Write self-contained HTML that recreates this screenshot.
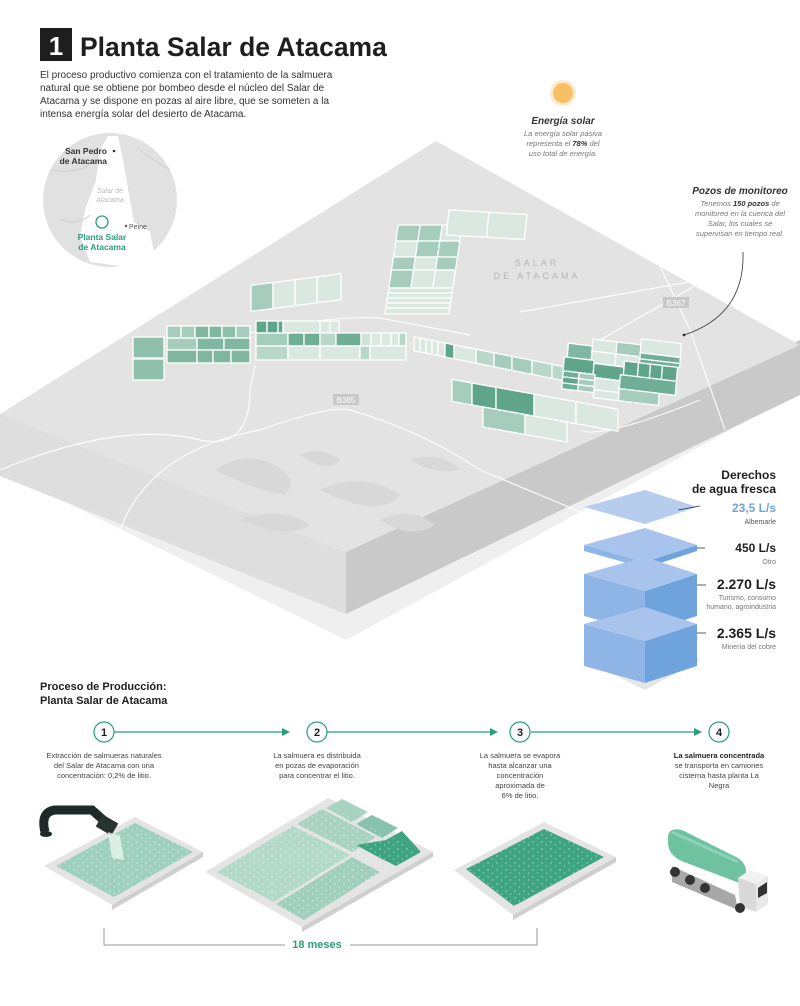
<!DOCTYPE html>
<html><head><meta charset="utf-8">
<style>
html,body{margin:0;padding:0;background:#fff;}
body{width:800px;height:1001px;overflow:hidden;font-family:"Liberation Sans",sans-serif;}
svg text{font-family:"Liberation Sans",sans-serif;}
</style></head>
<body>
<svg width="800" height="1001" viewBox="0 0 800 1001" xmlns="http://www.w3.org/2000/svg">
<defs>
<pattern id="dots" width="9" height="7" patternUnits="userSpaceOnUse">
<circle cx="2" cy="2" r="0.6" fill="#fff" opacity="0.8"/><circle cx="6.5" cy="5" r="0.6" fill="#fff" opacity="0.6"/>
</pattern>
<clipPath id="mapc"><circle cx="110" cy="200" r="67"/></clipPath>
</defs>

<!-- header -->
<rect x="40" y="28" width="32" height="33" fill="#1e1e1e"/>
<text x="56" y="55" font-size="26" font-weight="bold" fill="#fff" text-anchor="middle">1</text>
<text x="80" y="56" font-size="26.5" font-weight="bold" fill="#1e1e1e">Planta Salar de Atacama</text>
<g font-size="10" fill="#333">
<text x="40" y="78">El proceso productivo comienza con el tratamiento de la salmuera</text>
<text x="40" y="91">natural que se obtiene por bombeo desde el núcleo del Salar de</text>
<text x="40" y="104">Atacama y se dispone en pozas al aire libre, que se someten a la</text>
<text x="40" y="117">intensa energía solar del desierto de Atacama.</text>
</g>

<!-- slab -->
<polygon points="0,430 346,585 800,372 800,392 346,640 0,470" fill="#efefef"/>
<polygon points="0,414 346,552 346,614 0,476" fill="#dedede"/>
<polygon points="346,552 800,340 800,395 346,614" fill="#c9c9c9"/>
<polygon points="0,414 436,141 800,345 346,552" fill="#e3e3e3"/>

<!-- mountains -->
<g fill="#d8d8d8">
<path d="M215,470 q30,-20 60,-5 q25,15 10,30 q-30,-5 -70,-25z"/>
<path d="M300,455 q20,-10 40,5 q-10,15 -40,-5z"/>
<path d="M320,490 q40,-20 80,5 q-20,25 -80,-5z"/>
<path d="M240,520 q40,-15 70,5 q-20,15 -70,-5z"/>
<path d="M380,520 q30,-15 55,5 q-25,15 -55,-5z"/>
<path d="M410,460 q30,-10 50,10 q-25,5 -50,-10z"/>
</g>
<!-- roads -->
<g fill="none" stroke="#fff" stroke-width="1.2" opacity="0.9">
<path d="M0,470 Q120,420 200,440 Q250,450 250,390 L255,365"/>
<path d="M120,530 Q150,450 260,430 Q330,405 350,410 Q420,430 480,470 L600,520"/>
<path d="M520,312 L700,280 L740,270"/>
<path d="M600,340 L740,260"/>
<path d="M650,245 L690,330 L725,430"/>
<path d="M250,333 Q330,315 380,318 L470,335"/>
<path d="M580,430 Q600,440 700,400"/>
</g>

<!-- pond clusters -->
<g stroke="#fff" stroke-width="1.3">
<rect x="133" y="337" width="31" height="21" fill="#8fbfad"/><rect x="133" y="359" width="31" height="21" fill="#8fbfad"/>
<g>
<rect x="167" y="326" width="14" height="12" fill="#a6ccbd"/><rect x="181" y="326" width="14" height="12" fill="#a6ccbd"/><rect x="195" y="326" width="14" height="12" fill="#7fb7a2"/><rect x="209" y="326" width="13" height="12" fill="#7fb7a2"/><rect x="222" y="326" width="14" height="12" fill="#8fbfad"/><rect x="236" y="326" width="14" height="12" fill="#a6ccbd"/>
<rect x="167" y="338" width="30" height="12" fill="#a6ccbd"/><rect x="197" y="338" width="27" height="12" fill="#7fb7a2"/><rect x="224" y="338" width="26" height="12" fill="#7fb7a2"/>
<rect x="167" y="350" width="30" height="13" fill="#7fb7a2"/><rect x="197" y="350" width="16" height="13" fill="#7fb7a2"/><rect x="213" y="350" width="18" height="13" fill="#7fb7a2"/><rect x="231" y="350" width="19" height="13" fill="#7fb7a2"/>
</g>
<g>
<rect x="256" y="321" width="11" height="12" fill="#5ea58b"/><rect x="267" y="321" width="11" height="12" fill="#5ea58b"/><rect x="278" y="321" width="5" height="12" fill="#5ea58b"/><rect x="283" y="321" width="37" height="12" fill="#dbe8e2"/><rect x="320" y="321" width="10" height="12" fill="#dbe8e2"/><rect x="330" y="321" width="9" height="12" fill="#dbe8e2"/>
<rect x="256" y="333" width="32" height="13" fill="#a6ccbd"/><rect x="288" y="333" width="16" height="13" fill="#6fae97"/><rect x="304" y="333" width="16" height="13" fill="#6fae97"/><rect x="320" y="333" width="16" height="13" fill="#b9d7cb"/><rect x="336" y="333" width="25" height="13" fill="#6fae97"/><rect x="361" y="333" width="10" height="13" fill="#cfe1d9"/><rect x="371" y="333" width="10" height="13" fill="#dbe8e2"/><rect x="381" y="333" width="10" height="13" fill="#dbe8e2"/><rect x="391" y="333" width="8" height="13" fill="#dbe8e2"/><rect x="399" y="333" width="7" height="13" fill="#b9d7cb"/>
<rect x="256" y="346" width="32" height="14" fill="#b9d7cb"/><rect x="288" y="346" width="32" height="14" fill="#dbe8e2"/><rect x="320" y="346" width="40" height="14" fill="#dbe8e2"/><rect x="360" y="346" width="10" height="14" fill="#b9d7cb"/><rect x="370" y="346" width="36" height="14" fill="#dbe8e2"/>
</g>
<g transform="matrix(1,-0.13,0,1,0,33)">
<rect x="251" y="285" width="22" height="26" fill="#a6ccbd"/><rect x="273" y="285" width="22" height="26" fill="#dbe8e2"/><rect x="295" y="285" width="22" height="26" fill="#dbe8e2"/><rect x="317" y="285" width="24" height="26" fill="#dbe8e2"/>
</g>
<g transform="matrix(1,0,-0.15,1,47,0)">
<rect x="385" y="225" width="22" height="16" fill="#a6ccbd"/><rect x="407" y="225" width="22" height="16" fill="#a6ccbd"/><rect x="429" y="225" width="20" height="16" fill="#dbe8e2"/>
<rect x="385" y="241" width="22" height="16" fill="#dbe8e2"/><rect x="407" y="241" width="22" height="16" fill="#a6ccbd"/><rect x="429" y="241" width="20" height="16" fill="#a6ccbd"/>
<rect x="385" y="257" width="22" height="13" fill="#a6ccbd"/><rect x="407" y="257" width="22" height="13" fill="#dbe8e2"/><rect x="429" y="257" width="20" height="13" fill="#a6ccbd"/>
<rect x="385" y="270" width="22" height="18" fill="#a6ccbd"/><rect x="407" y="270" width="22" height="18" fill="#dbe8e2"/><rect x="429" y="270" width="20" height="18" fill="#dbe8e2"/>
<rect x="385" y="288" width="64" height="5" fill="#dbe8e2"/><rect x="385" y="293" width="64" height="5" fill="#dbe8e2"/><rect x="385" y="298" width="64" height="5" fill="#dbe8e2"/><rect x="385" y="303" width="64" height="5" fill="#dbe8e2"/><rect x="385" y="308" width="64" height="6" fill="#dbe8e2"/>
</g>
<g transform="matrix(1,0.06,-0.1,1,22,-27)">
<rect x="448" y="210" width="40" height="25" fill="#dbe8e2"/><rect x="488" y="210" width="38" height="25" fill="#dbe8e2"/>
</g>
<g transform="matrix(1,0.2,0,1,0,-84)">
<rect x="414" y="338" width="6" height="14" fill="#dbe8e2"/><rect x="420" y="338" width="6" height="14" fill="#dbe8e2"/><rect x="426" y="338" width="6" height="14" fill="#dbe8e2"/><rect x="432" y="338" width="6" height="14" fill="#dbe8e2"/><rect x="438" y="338" width="7" height="14" fill="#dbe8e2"/><rect x="445" y="338" width="9" height="14" fill="#5ea58b"/><rect x="454" y="338" width="22" height="14" fill="#dbe8e2"/><rect x="476" y="338" width="18" height="14" fill="#b9d7cb"/><rect x="494" y="338" width="18" height="14" fill="#a6ccbd"/><rect x="512" y="338" width="20" height="14" fill="#a6ccbd"/><rect x="532" y="338" width="20" height="14" fill="#b9d7cb"/><rect x="552" y="338" width="20" height="14" fill="#b9d7cb"/>
</g>
<g transform="matrix(1,0.12,-0.08,1,28,-70)">
<rect x="568" y="345" width="24" height="14" fill="#7fb7a2"/><rect x="592" y="338" width="24" height="12" fill="#dbe8e2"/><rect x="616" y="338" width="24" height="12" fill="#a6ccbd"/><rect x="640" y="332" width="40" height="14" fill="#dbe8e2"/>
<rect x="592" y="350" width="24" height="12" fill="#dbe8e2"/><rect x="616" y="350" width="24" height="12" fill="#dbe8e2"/><rect x="640" y="346" width="40" height="6" fill="#6fae97"/><rect x="640" y="352" width="40" height="4" fill="#6fae97"/>
<rect x="565" y="359" width="30" height="14" fill="#5ea58b"/><rect x="595" y="362" width="30" height="14" fill="#5ea58b"/><rect x="625" y="356" width="14" height="14" fill="#5ea58b"/><rect x="639" y="356" width="12" height="14" fill="#5ea58b"/><rect x="651" y="356" width="12" height="14" fill="#5ea58b"/><rect x="663" y="356" width="15" height="14" fill="#5ea58b"/>
<rect x="565" y="373" width="16" height="6" fill="#6fae97"/><rect x="581" y="373" width="16" height="6" fill="#a6ccbd"/><rect x="597" y="376" width="25" height="12" fill="#dbe8e2"/><rect x="622" y="370" width="56" height="14" fill="#6fae97"/>
<rect x="565" y="379" width="16" height="6" fill="#5ea58b"/><rect x="581" y="379" width="16" height="6" fill="#a6ccbd"/><rect x="622" y="384" width="40" height="12" fill="#a6ccbd"/>
<rect x="565" y="385" width="16" height="6" fill="#6fae97"/><rect x="581" y="385" width="16" height="6" fill="#a6ccbd"/><rect x="597" y="388" width="25" height="8" fill="#dbe8e2"/>
</g>
<g transform="matrix(1,0.18,0,1,0,-82)">
<rect x="452" y="380" width="20" height="22" fill="#a6ccbd"/><rect x="472" y="380" width="24" height="22" fill="#5ea58b"/><rect x="496" y="380" width="38" height="22" fill="#5ea58b"/><rect x="534" y="380" width="42" height="22" fill="#dbe8e2"/><rect x="576" y="380" width="42" height="22" fill="#dbe8e2"/>
<rect x="483" y="402" width="42" height="20" fill="#a6ccbd"/><rect x="525" y="402" width="42" height="20" fill="#dbe8e2"/>
</g>
</g>
<text x="537" y="266" font-size="9" fill="#b5b5b5" letter-spacing="3" text-anchor="middle">SALAR</text>
<text x="537" y="279" font-size="9" fill="#b5b5b5" letter-spacing="3" text-anchor="middle">DE ATACAMA</text>
<rect x="663" y="297" width="26" height="11" fill="#c8c8c8"/><text x="676" y="306" font-size="8" fill="#fff" text-anchor="middle">B367</text>
<rect x="333" y="394" width="26" height="11" fill="#c8c8c8"/><text x="346" y="403" font-size="8" fill="#fff" text-anchor="middle">B385</text>

<!-- map -->
<circle cx="110" cy="200" r="67" fill="#e1e1e1"/>
<g clip-path="url(#mapc)">
<polygon points="108,136 118,136 124,165 130,200 134,222 150,232 155,258 128,267 90,262 80,236 85,210 96,180 100,150" fill="#fff"/>
<path d="M50,170 Q80,175 95,160 M60,220 Q80,225 90,215 M140,150 Q160,165 170,170" stroke="#d0d0d0" fill="none"/>
</g>
<text x="107" y="154" font-size="8.5" font-weight="bold" fill="#333" text-anchor="end">San Pedro</text>
<circle cx="114" cy="151" r="1.3" fill="#333"/>
<text x="107" y="164" font-size="8.5" font-weight="bold" fill="#333" text-anchor="end">de Atacama</text>
<text x="110" y="193" font-size="7" fill="#bbb" text-anchor="middle" font-style="italic">Salar de</text>
<text x="110" y="202" font-size="7" fill="#bbb" text-anchor="middle" font-style="italic">Atacama</text>
<circle cx="102" cy="222" r="6" fill="#fff" stroke="#2a9d7c" stroke-width="1.3"/>
<circle cx="126" cy="226" r="1.2" fill="#555"/><text x="129" y="229" font-size="7" fill="#555">Peine</text>
<text x="102" y="240" font-size="8.5" font-weight="bold" fill="#2a9d7c" text-anchor="middle">Planta Salar</text>
<text x="102" y="250" font-size="8.5" font-weight="bold" fill="#2a9d7c" text-anchor="middle">de Atacama</text>

<!-- sun -->
<circle cx="563" cy="93" r="13" fill="#f7c46b" opacity="0.35"/>
<circle cx="563" cy="93" r="10" fill="#f7b955" opacity="0.85"/>
<text x="563" y="124" font-size="10" font-weight="bold" font-style="italic" fill="#333" text-anchor="middle">Energía solar</text>
<g font-size="7.5" font-style="italic" fill="#777" text-anchor="middle">
<text x="563" y="136">La energía solar pasiva</text>
<text x="563" y="146">representa el <tspan font-weight="bold" fill="#333">78%</tspan> del</text>
<text x="563" y="156">uso total de energía.</text>
</g>
<text x="740" y="194" font-size="10" font-weight="bold" font-style="italic" fill="#333" text-anchor="middle">Pozos de monitoreo</text>
<g font-size="7.5" font-style="italic" fill="#777" text-anchor="middle">
<text x="740" y="206">Tenemos <tspan font-weight="bold" fill="#333">150 pozos</tspan> de</text>
<text x="740" y="216">monitoreo en la cuenca del</text>
<text x="740" y="226">Salar, los cuales se</text>
<text x="740" y="236">supervisan en tiempo real.</text>
</g>
<path d="M743,252 Q745,315 684,335" fill="none" stroke="#333" stroke-width="0.8"/>
<circle cx="684" cy="335" r="1.4" fill="#333"/>

<!-- water stack -->
<polygon points="584,660 645,640 700,660 645,690" fill="#e6e6e6"/>
<polygon points="584,507 645,490 697,507 645,524" fill="#b7cdee"/>
<!-- slab 2 -->
<polygon points="584,545 645,562 645,568 584,551" fill="#8fb4e6"/>
<polygon points="645,562 697,545 697,551 645,568" fill="#6fa3dd"/>
<polygon points="584,545 645,528 697,545 645,562" fill="#a9c4ec"/>
<!-- box 3 -->
<polygon points="584,574 645,591 645,633 584,616" fill="#8fb4e6"/>
<polygon points="645,591 697,574 697,616 645,633" fill="#6fa3dd"/>
<polygon points="584,574 645,557 697,574 645,591" fill="#a9c4ec"/>
<!-- box 4 -->
<polygon points="584,624 645,641 645,683 584,666" fill="#8fb4e6"/>
<polygon points="645,641 697,624 697,666 645,683" fill="#6fa3dd"/>
<polygon points="584,624 645,607 697,624 645,641" fill="#a9c4ec"/>
<text x="776" y="479" font-size="12" font-weight="bold" fill="#1e1e1e" text-anchor="end">Derechos</text>
<text x="776" y="493" font-size="12" font-weight="bold" fill="#1e1e1e" text-anchor="end">de agua fresca</text>
<g stroke="#333" stroke-width="0.8"><line x1="678" y1="510" x2="700" y2="506"/><line x1="697" y1="548" x2="705" y2="548"/><line x1="697" y1="585" x2="706" y2="585"/><line x1="697" y1="633" x2="706" y2="633"/></g>
<text x="776" y="512" font-size="12" fill="#6fa3dd" font-weight="bold" text-anchor="end">23,5 L/s</text>
<text x="776" y="524" font-size="7" fill="#555" text-anchor="end">Albemarle</text>
<text x="776" y="552" font-size="12" font-weight="bold" fill="#1e1e1e" text-anchor="end">450 L/s</text>
<text x="776" y="564" font-size="7" fill="#777" text-anchor="end">Otro</text>
<text x="776" y="589" font-size="14" font-weight="bold" fill="#1e1e1e" text-anchor="end">2.270 L/s</text>
<text x="776" y="600" font-size="7" fill="#777" text-anchor="end">Turismo, consumo</text>
<text x="776" y="609" font-size="7" fill="#777" text-anchor="end">humano, agroindustria</text>
<text x="776" y="638" font-size="14" font-weight="bold" fill="#1e1e1e" text-anchor="end">2.365 L/s</text>
<text x="776" y="649" font-size="7" fill="#777" text-anchor="end">Minería del cobre</text>

<!-- process -->
<text x="40" y="690" font-size="11" font-weight="bold" fill="#1e1e1e">Proceso de Producción:</text>
<text x="40" y="704" font-size="11" font-weight="bold" fill="#1e1e1e">Planta Salar de Atacama</text>
<g stroke="#2a9d7c" stroke-width="1.2" fill="#fff">
<line x1="114" y1="732" x2="282" y2="732"/><line x1="327" y1="732" x2="490" y2="732"/><line x1="531" y1="732" x2="694" y2="732"/>
<circle cx="104" cy="732" r="10"/><circle cx="317" cy="732" r="10"/><circle cx="520" cy="732" r="10"/><circle cx="719" cy="732" r="10"/>
</g>
<g fill="#2a9d7c"><polygon points="282,728 290,732 282,736"/><polygon points="490,728 498,732 490,736"/><polygon points="694,728 702,732 694,736"/></g>
<g font-size="11" font-weight="bold" fill="#1e1e1e" text-anchor="middle">
<text x="104" y="736">1</text><text x="317" y="736">2</text><text x="520" y="736">3</text><text x="719" y="736">4</text>
</g>
<g font-size="7.5" fill="#444" text-anchor="middle">
<text x="104" y="758">Extracción de salmueras naturales</text>
<text x="104" y="768">del Salar de Atacama con una</text>
<text x="104" y="778">concentración: 0,2% de litio.</text>
<text x="317" y="758">La salmuera es distribuida</text>
<text x="317" y="768">en pozas de evaporación</text>
<text x="317" y="778">para concentrar el litio.</text>
<text x="520" y="758">La salmuera se evapora</text>
<text x="520" y="768">hasta alcanzar una</text>
<text x="520" y="778">concentración</text>
<text x="520" y="788">aproximada de</text>
<text x="520" y="798">6% de litio.</text>
<text x="719" y="758" font-weight="bold" fill="#222">La salmuera concentrada</text>
<text x="719" y="768">se transporta en camiones</text>
<text x="719" y="778">cisterna hasta planta La</text>
<text x="719" y="788">Negra</text>
</g>

<!-- pond 1 -->
<polygon points="44,866 135,817 203,852 112,905" fill="#e4e4e4"/>
<polygon points="112,905 203,852 203,857 112,910" fill="#cfcfcf"/>
<polygon points="56,866 135,823 193,852 114,897" fill="#9fd0bf"/>
<polygon points="56,866 135,823 193,852 114,897" fill="url(#dots)"/>
<path d="M45,832 Q40,812 55,810 L92,810 L110,826" fill="none" stroke="#1e2a27" stroke-width="9"/>
<ellipse cx="46" cy="834" rx="6" ry="3" fill="#1e2a27"/>
<rect x="98" y="818" width="18" height="14" fill="#26332f" transform="rotate(30 107 825)"/>
<polygon points="108,832 120,836 124,860 112,858" fill="#e8f5f0" opacity="0.8"/>
<!-- pond 2 -->
<polygon points="205,872 328,798 433,852 302,927" fill="#e4e4e4"/>
<polygon points="302,927 433,852 433,857 302,932" fill="#cfcfcf"/>
<polygon points="217,872 293,826 350,855 274,902" fill="#b3d9cb"/>
<polygon points="297,824 322,809 376,837 352,852" fill="#a8d3c3"/>
<polygon points="276,904 352,857 380,872 304,920" fill="#a0cfbe"/>
<polygon points="326,808 342,799 368,812 352,822" fill="#a8d3c3"/>
<polygon points="356,824 372,815 398,828 382,838" fill="#86c2ad"/>
<polygon points="386,840 402,831 421,852 396,866 380,858 356,845" fill="#3fa482"/>
<polygon points="217,872 328,804 421,852 302,920" fill="url(#dots)"/>
<!-- pond 3 -->
<polygon points="454,870 544,822 616,857 513,915" fill="#e4e4e4"/>
<polygon points="513,915 616,857 616,862 513,920" fill="#cfcfcf"/>
<polygon points="466,869 544,829 604,857 514,906" fill="#3fa482"/>
<polygon points="466,869 544,829 604,857 514,906" fill="url(#dots)"/>
<!-- truck -->
<polygon points="672,866 735,895 738,910 672,882" fill="#a8a8a8"/>
<path d="M668,842 Q666,826 682,830 L738,858 Q752,868 742,884 L684,862 Q668,856 668,842z" fill="#6fc2a0"/>
<path d="M672,832 L738,862" stroke="#8fd3b6" stroke-width="3"/>
<polygon points="738,878 750,870 768,876 756,884" fill="#f2f2f2"/>
<polygon points="738,878 756,884 756,912 740,906" fill="#d9d9d9"/>
<polygon points="756,884 768,876 768,904 756,912" fill="#e8e8e8"/>
<polygon points="758,888 767,882 767,893 758,898" fill="#333"/>
<g fill="#333"><circle cx="675" cy="872" r="5"/><circle cx="690" cy="880" r="5"/><circle cx="705" cy="888" r="5"/><circle cx="740" cy="908" r="5"/></g>

<!-- 18 meses -->
<path d="M104,928 V945 H285 M350,945 H537 V928" fill="none" stroke="#999" stroke-width="1"/>
<text x="317" y="948" font-size="11" font-weight="bold" fill="#2a9d7c" text-anchor="middle">18 meses</text>
</svg>
</body></html>
